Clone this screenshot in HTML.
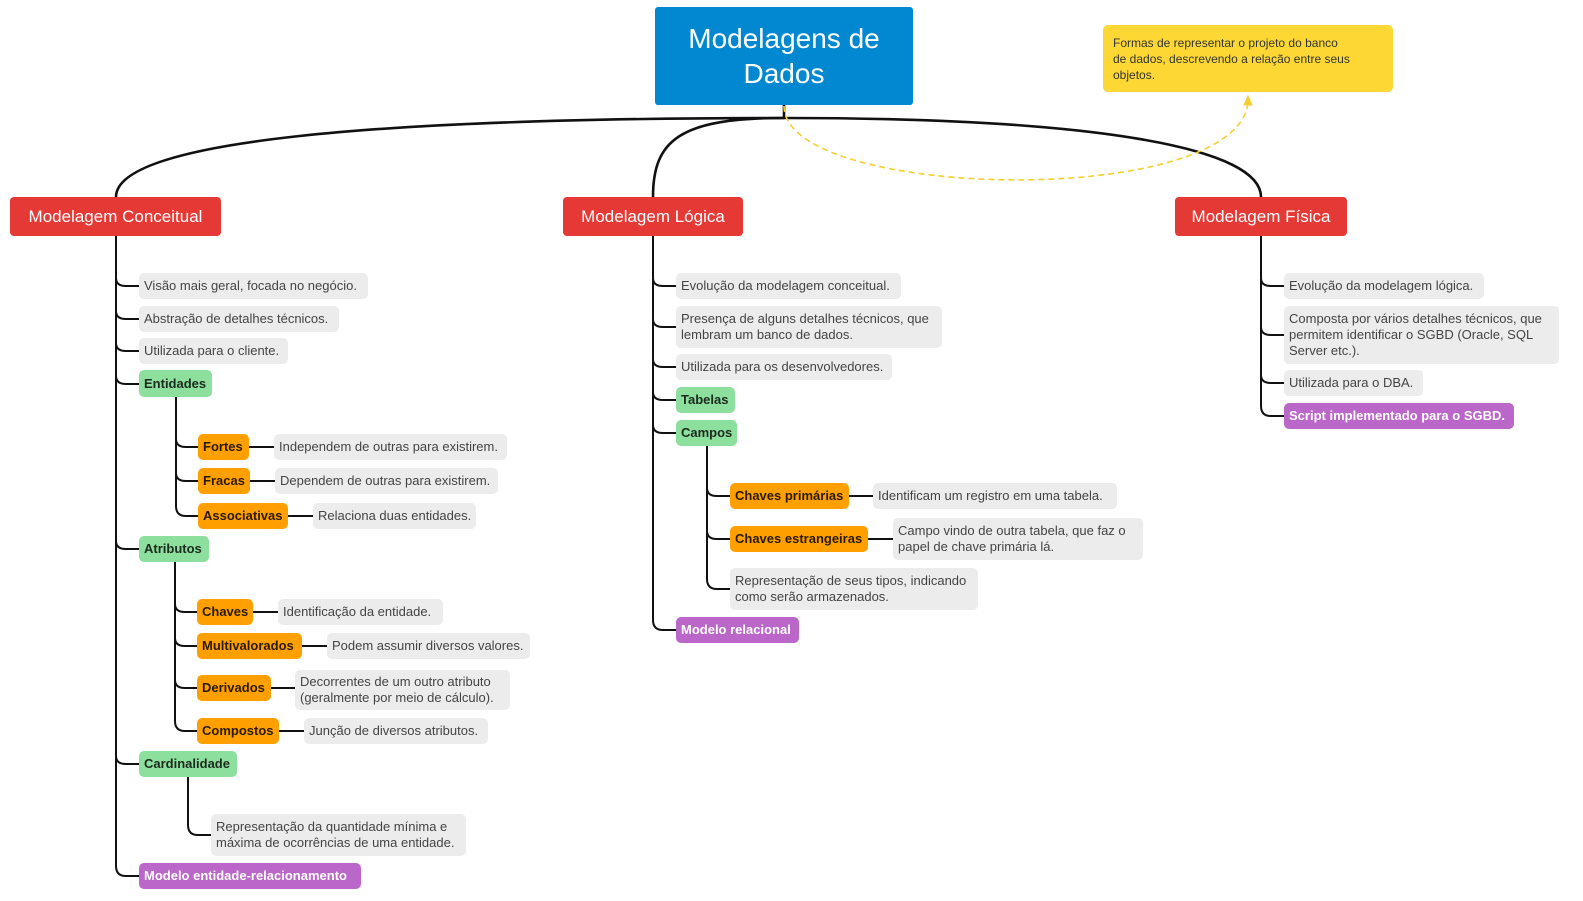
<!DOCTYPE html>
<html><head><meta charset="utf-8"><style>
html{width:1583px;height:901px;overflow:hidden;margin:0;padding:0}
body{margin:0;width:1583px;height:901px;background:#fff;position:relative;overflow:hidden;font-family:"Liberation Sans",sans-serif}
.n{position:absolute;box-sizing:border-box;display:flex;align-items:center;padding:0 5px;border-radius:5px;font-size:13px;line-height:16px;white-space:nowrap;overflow:hidden}
.g{background:#ececec;color:#444}
.gr{background:#8cdf9c;color:#1d2a1f;font-weight:bold}
.o{background:#ffa000;color:#2a1a00;font-weight:bold}
.p{background:#bb66c9;color:#fff;font-weight:bold}
.r{background:#e53935;color:#fff;font-size:17px;justify-content:center;border-radius:4px}
.w{white-space:normal}
svg{position:absolute;left:0;top:0;display:block}
</style></head><body>
<svg width="1583" height="901" fill="none" stroke="#111" stroke-width="2">
<g stroke-width="2.6">
<path d="M784,105 L784,118"/>
<path d="M784,118 C 380,118 116,140 116,197"/>
<path d="M784,118 C 680,118 653,140 653,197"/>
<path d="M784,118 C 1110,118 1261,150 1261,197"/>
</g>
<path d="M784,106 C 784,200 1235,210 1248,103" stroke="#f5cf2f" stroke-width="1.6" stroke-dasharray="6,4"/>
<path d="M1244,105 L1248,96 L1252,105 Z" fill="#f5cf2f" stroke="#f5cf2f" stroke-width="1"/>
<path d="M116,236 L116,866 Q116,876 126,876 L139,876"/>
<path d="M116,278 Q116,286 126,286 L139,286 M116,311 Q116,319 126,319 L139,319 M116,343 Q116,351 126,351 L139,351 M116,376 Q116,384 126,384 L139,384 M116,541 Q116,549 126,549 L139,549 M116,756 Q116,764 126,764 L139,764"/>
<path d="M176,397 L176,506 Q176,516 186,516 L198,516 M176,439 Q176,447 186,447 L198,447 M176,473 Q176,481 186,481 L198,481"/>
<path d="M249,447 L274,447 M250,481 L275,481 M288,516 L313,516"/>
<path d="M175,562 L175,721 Q175,731 185,731 L197,731 M175,604 Q175,612 185,612 L197,612 M175,638 Q175,646 185,646 L197,646 M175,680 Q175,688 185,688 L197,688"/>
<path d="M253,612 L278,612 M302,646 L327,646 M271,688 L295,688 M279,731 L304,731"/>
<path d="M188,777 L188,825 Q188,835 198,835 L211,835"/>
<path d="M653,236 L653,620 Q653,630 663,630 L676,630 M653,278 Q653,286 663,286 L676,286 M653,319 Q653,327 663,327 L676,327 M653,359 Q653,367 663,367 L676,367 M653,392 Q653,400 663,400 L676,400 M653,425 Q653,433 663,433 L676,433"/>
<path d="M707,446 L707,579 Q707,589 717,589 L730,589 M707,488 Q707,496 717,496 L730,496 M707,531 Q707,539 717,539 L730,539"/>
<path d="M849,496 L873,496 M868,539 L893,539"/>
<path d="M1261,236 L1261,406 Q1261,416 1271,416 L1284,416 M1261,278 Q1261,286 1271,286 L1284,286 M1261,327 Q1261,335 1271,335 L1284,335 M1261,375 Q1261,383 1271,383 L1284,383"/>
</svg>

<div class="n" style="left:655px;top:7px;width:258px;height:98px;background:#0288d1;color:#fff;font-size:28px;line-height:35px;justify-content:center;text-align:center;white-space:normal;border-radius:3px">Modelagens de<br>Dados</div>
<div class="n" style="left:1103px;top:25px;width:290px;height:67px;background:#fdd835;color:#333;font-size:12px;line-height:16px;padding:0 10px;align-items:center">Formas de representar o projeto do banco<br>de dados, descrevendo a relação entre seus<br>objetos.</div>

<div class="n r" style="left:10px;top:197px;width:211px;height:39px">Modelagem Conceitual</div>
<div class="n r" style="left:563px;top:197px;width:180px;height:39px">Modelagem Lógica</div>
<div class="n r" style="left:1175px;top:197px;width:172px;height:39px">Modelagem Física</div>

<div class="n g" style="left:139px;top:273px;width:229px;height:26px">Visão mais geral, focada no negócio.</div>
<div class="n g" style="left:139px;top:306px;width:200px;height:26px">Abstração de detalhes técnicos.</div>
<div class="n g" style="left:139px;top:338px;width:149px;height:26px">Utilizada para o cliente.</div>
<div class="n gr" style="left:139px;top:370px;width:73px;height:27px">Entidades</div>
<div class="n o" style="left:198px;top:434px;width:51px;height:26px">Fortes</div>
<div class="n g" style="left:274px;top:434px;width:233px;height:26px">Independem de outras para existirem.</div>
<div class="n o" style="left:198px;top:468px;width:52px;height:26px">Fracas</div>
<div class="n g" style="left:275px;top:468px;width:223px;height:26px">Dependem de outras para existirem.</div>
<div class="n o" style="left:198px;top:503px;width:90px;height:26px">Associativas</div>
<div class="n g" style="left:313px;top:503px;width:163px;height:26px">Relaciona duas entidades.</div>
<div class="n gr" style="left:139px;top:536px;width:70px;height:26px">Atributos</div>
<div class="n o" style="left:197px;top:599px;width:56px;height:26px">Chaves</div>
<div class="n g" style="left:278px;top:599px;width:165px;height:26px">Identificação da entidade.</div>
<div class="n o" style="left:197px;top:633px;width:105px;height:26px">Multivalorados</div>
<div class="n g" style="left:327px;top:633px;width:203px;height:26px">Podem assumir diversos valores.</div>
<div class="n o" style="left:197px;top:675px;width:74px;height:26px">Derivados</div>
<div class="n g w" style="left:295px;top:670px;width:215px;height:40px">Decorrentes de um outro atributo (geralmente por meio de cálculo).</div>
<div class="n o" style="left:197px;top:718px;width:82px;height:26px">Compostos</div>
<div class="n g" style="left:304px;top:718px;width:184px;height:26px">Junção de diversos atributos.</div>
<div class="n gr" style="left:139px;top:751px;width:98px;height:26px">Cardinalidade</div>
<div class="n g w" style="left:211px;top:814px;width:255px;height:42px">Representação da quantidade mínima e máxima de ocorrências de uma entidade.</div>
<div class="n p" style="left:139px;top:863px;width:222px;height:26px">Modelo entidade-relacionamento</div>

<div class="n g" style="left:676px;top:273px;width:225px;height:26px">Evolução da modelagem conceitual.</div>
<div class="n g w" style="left:676px;top:306px;width:266px;height:42px">Presença de alguns detalhes técnicos, que lembram um banco de dados.</div>
<div class="n g" style="left:676px;top:354px;width:216px;height:26px">Utilizada para os desenvolvedores.</div>
<div class="n gr" style="left:676px;top:387px;width:59px;height:26px">Tabelas</div>
<div class="n gr" style="left:676px;top:420px;width:61px;height:26px">Campos</div>
<div class="n o" style="left:730px;top:483px;width:119px;height:26px">Chaves primárias</div>
<div class="n g" style="left:873px;top:483px;width:244px;height:26px">Identificam um registro em uma tabela.</div>
<div class="n o" style="left:730px;top:526px;width:138px;height:26px">Chaves estrangeiras</div>
<div class="n g w" style="left:893px;top:518px;width:250px;height:42px">Campo vindo de outra tabela, que faz o papel de chave primária lá.</div>
<div class="n g w" style="left:730px;top:568px;width:248px;height:42px">Representação de seus tipos, indicando como serão armazenados.</div>
<div class="n p" style="left:676px;top:617px;width:123px;height:26px">Modelo relacional</div>

<div class="n g" style="left:1284px;top:273px;width:200px;height:26px">Evolução da modelagem lógica.</div>
<div class="n g w" style="left:1284px;top:306px;width:275px;height:58px">Composta por vários detalhes técnicos, que permitem identificar o SGBD (Oracle, SQL Server etc.).</div>
<div class="n g" style="left:1284px;top:370px;width:139px;height:26px">Utilizada para o DBA.</div>
<div class="n p" style="left:1284px;top:403px;width:230px;height:26px">Script implementado para o SGBD.</div>
</body></html>
